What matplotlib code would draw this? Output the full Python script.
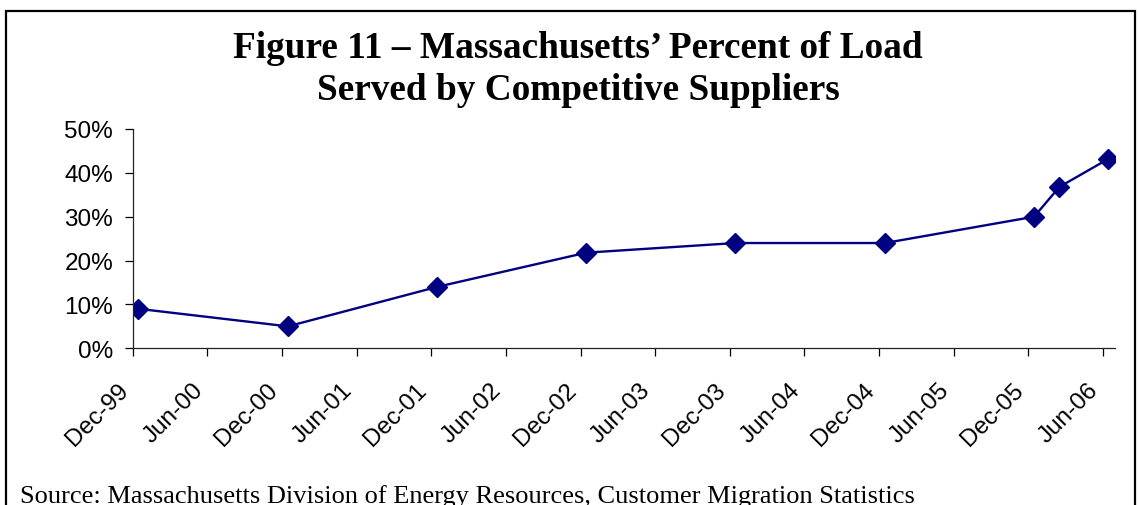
import matplotlib
matplotlib.use("Agg")
import matplotlib.pyplot as plt
import matplotlib.dates as mdates
from matplotlib.patches import Rectangle
from matplotlib.ticker import PercentFormatter
import numpy as np

# data
dates = np.array(["1999-12-15", "2000-12-15", "2001-12-15", "2002-12-15",
                  "2003-12-15", "2004-12-15", "2005-12-15", "2006-02-15",
                  "2006-06-15"], dtype="datetime64[D]")
share = [9.0, 5.0, 14.0, 21.8, 24.0, 24.0, 30.0, 36.8, 43.2]

title = "Figure 11 \u2013 Massachusetts\u2019 Percent of Load\nServed by Competitive Suppliers"
source = "Source: Massachusetts Division of Energy Resources, Customer Migration Statistics"

fig = plt.figure(figsize=(11.38, 5.06), dpi=100)
ax = fig.add_axes([0.1166, 0.3097, 0.8632, 0.4334])

# frame around the figure (no bottom edge)
fig.patches.append(Rectangle((0.0053, -0.05), 0.9917, 1.05 - 0.0237,
                             transform=fig.transFigure, fill=False,
                             edgecolor="black", linewidth=1.6))

ax.plot(dates, share, color="#000080", linewidth=1.7, marker="D",
        markersize=10, markerfacecolor="#000080", markeredgecolor="#000080")

ax.set_ylim(0, 50)
ax.set_yticks(np.arange(0, 51, 10))
ax.yaxis.set_major_formatter(PercentFormatter(decimals=0))
ax.set_xlim(np.datetime64("1999-12-01"), np.datetime64("2006-07-01"))
ax.xaxis.set_major_locator(mdates.MonthLocator(bymonth=[6, 12]))
ax.xaxis.set_major_formatter(mdates.DateFormatter("%b-%y"))

for s in ["top", "right"]:
    ax.spines[s].set_visible(False)
for s in ["left", "bottom"]:
    ax.spines[s].set_linewidth(0.9)
    ax.spines[s].set_color("#222222")

ax.tick_params(axis="y", direction="out", length=6, width=0.9, pad=8,
               labelsize=17.5, labelfontfamily="Liberation Sans")
ax.tick_params(axis="x", direction="out", length=6, width=0.9, pad=16,
               labelsize=17.5, labelfontfamily="Liberation Sans")
for lab in ax.get_xticklabels():
    lab.set_rotation(45)
    lab.set_ha("right")
    lab.set_va("top")

fig.text(0.508, 0.802, title, ha="center", va="baseline", fontsize=26.8,
         fontweight="bold", family="Liberation Serif", linespacing=1.27)
fig.text(0.0176, 0.006, source, ha="left", va="baseline", fontsize=19,
         family="Liberation Serif")

fig.savefig("out.png", dpi=100)
